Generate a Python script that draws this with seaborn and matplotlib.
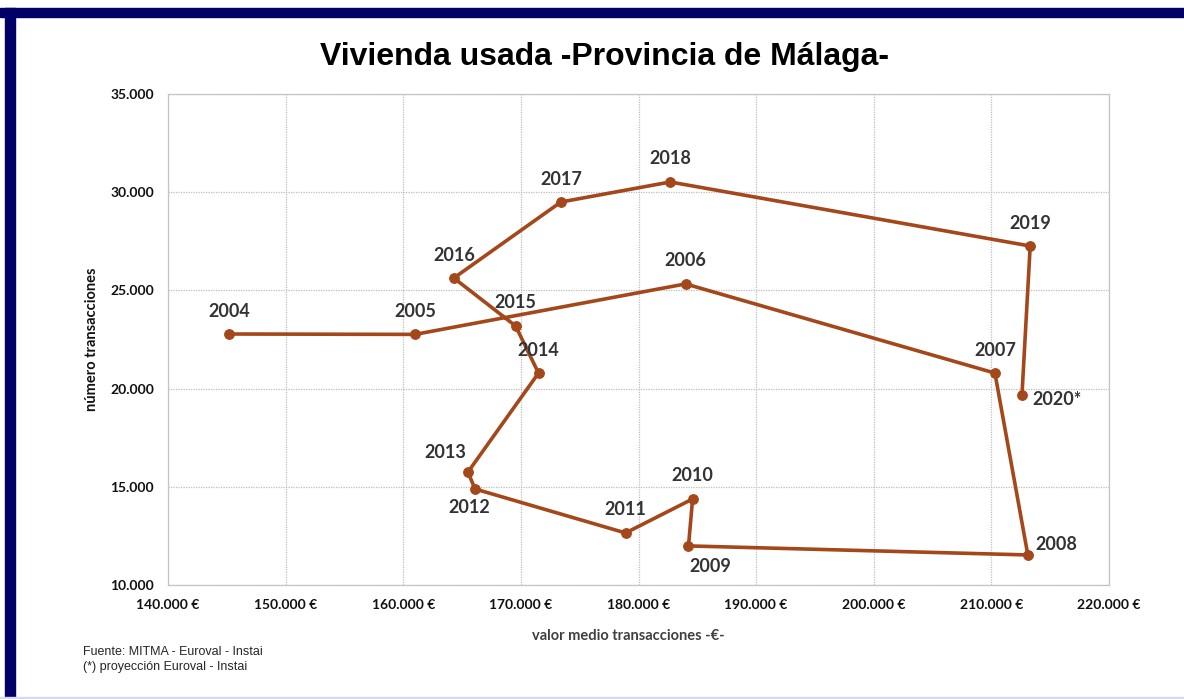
import matplotlib
matplotlib.use("Agg")
import matplotlib.pyplot as plt
from matplotlib.ticker import FuncFormatter, MultipleLocator
from matplotlib.patches import Rectangle
import pandas as pd
import seaborn as sns

sns.set_style("white")

# Data
years = ["2004", "2005", "2006", "2007", "2008", "2009", "2010", "2011", "2012",
         "2013", "2014", "2015", "2016", "2017", "2018", "2019", "2020*"]
valor = [145200, 161000, 184000, 210300, 213100, 184250, 184600, 178900, 166100,
         165500, 171500, 169550, 164300, 173400, 182700, 213300, 212600]
transacciones = [22780, 22760, 25330, 20790, 11530, 11990, 14380, 12650, 14890,
                 15750, 20790, 23190, 25630, 29500, 30520, 27260, 19670]

df = pd.DataFrame({"year": years, "valor": valor, "trans": transacciones})

# label offsets in pixels (styling)
offsets = {"2008": (28, 10), "2009": (22, -21), "2012": (-6, -19),
           "2013": (-23, 20), "2020*": (35, -4)}

line_color = "#A4471A"

fig = plt.figure(figsize=(11.84, 6.99), dpi=100)
ax = fig.add_axes([168 / 1184, 1 - 585 / 699, (1109 - 168) / 1184, (585 - 94) / 699])

sns.lineplot(data=df, x="valor", y="trans", sort=False, estimator=None,
             color=line_color, lw=2.6, marker="o", markersize=7,
             markeredgecolor=line_color, ax=ax)

for y, xv, yv in zip(years, valor, transacciones):
    dx, dy = offsets.get(y, (0, 23))
    ax.annotate(y, (xv, yv), xytext=(dx, dy), textcoords="offset pixels",
                ha="center", va="center", fontsize=13, fontweight="bold",
                color="#333333", family="Lato")

ax.set_xlim(140000, 220000)
ax.set_ylim(10000, 35000)
ax.xaxis.set_major_locator(MultipleLocator(10000))
ax.yaxis.set_major_locator(MultipleLocator(5000))
ax.xaxis.set_major_formatter(FuncFormatter(lambda v, p: f"{int(v):,} €".replace(",", ".")))
ax.yaxis.set_major_formatter(FuncFormatter(lambda v, p: f"{int(v):,}".replace(",", ".")))
ax.grid(True, linestyle=(0, (1, 1)), color="#bdbdbd", lw=0.9)
for s in ax.spines.values():
    s.set_linestyle((0, (1, 1)))
    s.set_color("#c4c4c4")
    s.set_linewidth(0.9)
ax.tick_params(length=0, pad=10)
for lab in ax.get_xticklabels() + ax.get_yticklabels():
    lab.set_family("Lato")
    lab.set_fontweight("bold")
    lab.set_fontsize(10)
    lab.set_color("#111111")

ax.set_xlabel("valor medio transacciones -€-", fontsize=10.5, fontweight="bold",
              family="Lato", color="#404040", labelpad=14)
ax.xaxis.set_label_coords((628 - 168) / (1109 - 168), -0.09)
ax.set_ylabel("número transacciones", fontsize=10.5, fontweight="bold",
              family="Lato", color="#111111", labelpad=8)

fig.text(605 / 1184, 1 - 57 / 699, "Vivienda usada -Provincia de Málaga-",
         ha="center", va="center", fontsize=23, fontweight="bold",
         family="Liberation Sans", color="black")
fig.text(83 / 1184, 1 - 652 / 699, "Fuente: MITMA - Euroval - Instai",
         ha="left", va="center", fontsize=9, family="Liberation Sans")
fig.text(83 / 1184, 1 - 667 / 699, "(*) proyección Euroval - Instai",
         ha="left", va="center", fontsize=9, family="Liberation Sans")

# frame bands
fig.patches.append(Rectangle((0, 1 - 17 / 699), 1, 9 / 699, transform=fig.transFigure,
                             color="#000066", zorder=0))
fig.patches.append(Rectangle((5 / 1184, 0), 10 / 1184, 1 - 8 / 699,
                             transform=fig.transFigure, color="#000066", zorder=0))
fig.patches.append(Rectangle((0, 0), 1, 2 / 699, transform=fig.transFigure,
                             color="#d8d8ec", zorder=0))

fig.savefig("out.png", dpi=100)
